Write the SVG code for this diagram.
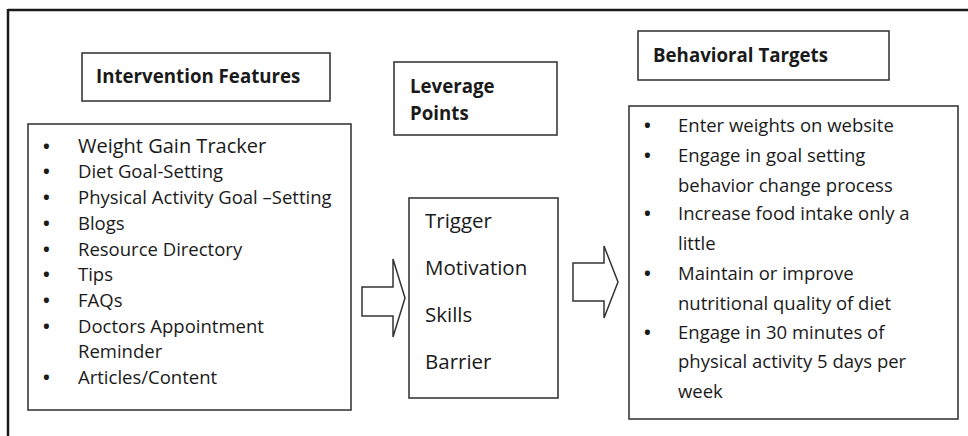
<svg xmlns="http://www.w3.org/2000/svg" width="968" height="436" viewBox="0 0 968 436">
<style>
.box{fill:#fff;stroke:#3a3a3a;stroke-width:1.6}
.t{font-family:"Open Sans","Liberation Sans",sans-serif;font-size:18.5px;fill:#1a1a1a}
.h{font-family:"Open Sans","Liberation Sans",sans-serif;font-size:18.7px;font-weight:bold;fill:#1a1a1a}
.m{font-size:20.5px}
.b{font-size:18px;font-weight:bold}
.arr{fill:#fff;stroke:#333;stroke-width:1.5;stroke-linejoin:miter}
</style>
<rect width="968" height="436" fill="#fff"/>
<g id="frame">
<path d="M8 10 H968 M8 9 V436" stroke="#1a1a1a" stroke-width="2.5" fill="none"/>
</g>
<g id="hdr-intervention">
<rect class="box" x="82" y="53" width="248" height="48"/>
<text class="h" x="96" y="83">Intervention Features</text>
</g>
<g id="hdr-leverage">
<rect class="box" x="394" y="62" width="163" height="73"/>
<text class="h" x="410" y="93">Leverage</text>
<text class="h" x="410" y="120">Points</text>
</g>
<g id="hdr-behavioral">
<rect class="box" x="638" y="31" width="251" height="49"/>
<text class="h" x="653" y="62">Behavioral Targets</text>
</g>
<g id="features">
<rect class="box" x="28" y="124" width="323" height="286"/>
<g class="t">
<text class="b" x="43" y="153">•</text><text x="78" y="153" style="font-size:20px">Weight Gain Tracker</text>
<text class="b" x="43" y="178">•</text><text x="78" y="178">Diet Goal-Setting</text>
<text class="b" x="43" y="204">•</text><text x="78" y="204">Physical Activity Goal –Setting</text>
<text class="b" x="43" y="230">•</text><text x="78" y="230">Blogs</text>
<text class="b" x="43" y="256">•</text><text x="78" y="256">Resource Directory</text>
<text class="b" x="43" y="281">•</text><text x="78" y="281">Tips</text>
<text class="b" x="43" y="307">•</text><text x="78" y="307">FAQs</text>
<text class="b" x="43" y="333">•</text><text x="78" y="333">Doctors Appointment</text>
<text x="78" y="358">Reminder</text>
<text class="b" x="43" y="384">•</text><text x="78" y="384">Articles/Content</text>
</g>
</g>
<g id="leverage">
<rect class="box" x="409" y="198" width="149" height="200"/>
<g class="t m">
<text x="425" y="228">Trigger</text>
<text x="425" y="275">Motivation</text>
<text x="425" y="322">Skills</text>
<text x="425" y="369">Barrier</text>
</g>
</g>
<g id="targets">
<rect class="box" x="629" y="106" width="329" height="313"/>
<g class="t">
<text class="b" x="644" y="132">•</text><text x="678" y="132">Enter weights on website</text>
<text class="b" x="644" y="162">•</text><text x="678" y="162">Engage in goal setting</text>
<text x="678" y="192">behavior change process</text>
<text class="b" x="644" y="220">•</text><text x="678" y="220">Increase food intake only a</text>
<text x="678" y="250">little</text>
<text class="b" x="644" y="280">•</text><text x="678" y="280">Maintain or improve</text>
<text x="678" y="310">nutritional quality of diet</text>
<text class="b" x="644" y="339">•</text><text x="678" y="339">Engage in 30 minutes of</text>
<text x="678" y="368">physical activity 5 days per</text>
<text x="678" y="398">week</text>
</g>
</g>
<g id="connectors">
<path class="arr" d="M362 287 H393 V259 L405 298 L393 337 V316 H362 Z"/>
<path class="arr" d="M573 263 H604 V246 L618 282 L604 318 V301 H573 Z"/>
</g>
</svg>
